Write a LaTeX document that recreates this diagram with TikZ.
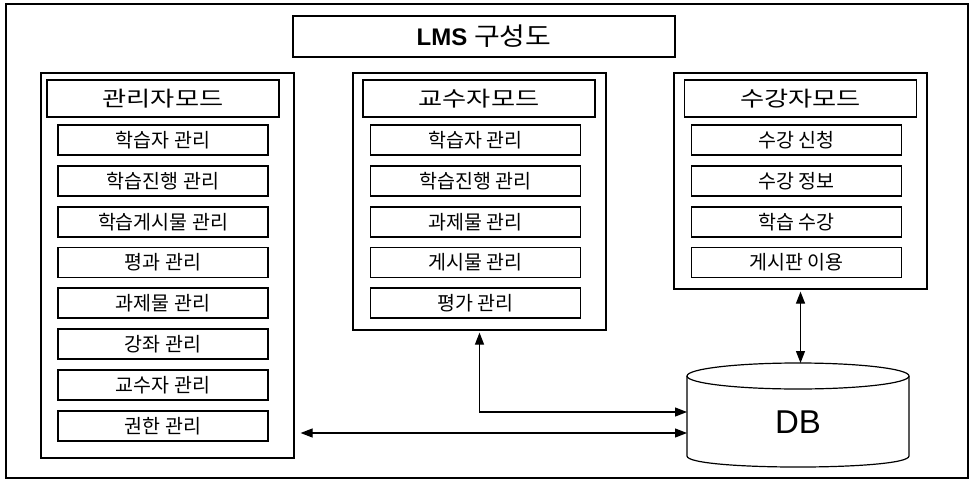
\documentclass[tikz,border=0pt]{standalone}
\usepackage{graphicx}
\usepackage{fontspec}
\setmainfont{Liberation Sans}
\newfontfamily\kr{Noto Sans CJK KR}
\usetikzlibrary{arrows.meta}
\newcommand{\hdtext}[1]{\scalebox{1.25}[1]{#1}}
\tikzset{
  base/.style={draw=black, line width=1.2pt, inner sep=0pt, align=center},
  modbox/.style={base, minimum width=253pt},
  headbox/.style={base, minimum width=232pt, minimum height=37pt, font=\kr\fontsize{21}{21}\selectfont},
  itembox/.style={base, minimum width=210pt, minimum height=30pt, font=\kr\fontsize{19.5}{19.5}\selectfont},
  link/.style={line width=1.2pt, {Triangle[length=12pt,width=9pt]}-{Triangle[length=12pt,width=9pt]}}
}
\begin{document}
\begin{tikzpicture}[x=1pt,y=-1pt]
\useasboundingbox (0,0) rectangle (973,481);
% outer frame
\node[base, minimum width=962pt, minimum height=474pt] (frame) at (487,241) {};
% title
\node[base, minimum width=382pt, minimum height=41pt] (title) at (484,36.5)
  {\fontsize{24}{24}\selectfont\textbf{LMS} {\kr\fontsize{25}{25}\selectfont\scalebox{1.12}[1]{구성도}}};
% module boxes
\node[modbox, minimum height=385pt] (admin) at (167.5,265.5) {};
\node[modbox, minimum height=257pt] (prof) at (479.5,201.5) {};
\node[modbox, minimum height=216pt] (stud) at (800.5,181) {};
% headers
\node[headbox] (adminh) at (163,98.5) {\hdtext{관리자모드}};
\node[headbox] (profh) at (479,98.5) {\hdtext{교수자모드}};
\node[headbox] (studh) at (800.5,98.5) {\hdtext{수강자모드}};
% admin items
\node[itembox] (a1) at (163,140) {학습자 관리};
\node[itembox] (a2) at (163,181) {학습진행 관리};
\node[itembox] (a3) at (163,222) {학습게시물 관리};
\node[itembox] (a4) at (163,262.5) {평과 관리};
\node[itembox] (a5) at (163,303) {과제물 관리};
\node[itembox] (a6) at (163,344) {강좌 관리};
\node[itembox] (a7) at (163,385) {교수자 관리};
\node[itembox] (a8) at (163,426) {권한 관리};
% professor items
\node[itembox] (p1) at (475.5,140) {학습자 관리};
\node[itembox] (p2) at (475.5,181) {학습진행 관리};
\node[itembox] (p3) at (475.5,222) {과제물 관리};
\node[itembox] (p4) at (475.5,262.5) {게시물 관리};
\node[itembox] (p5) at (475.5,303) {평가 관리};
% student items
\node[itembox] (s1) at (796.5,140) {수강 신청};
\node[itembox] (s2) at (796.5,181) {수강 정보};
\node[itembox] (s3) at (796.5,222) {학습 수강};
\node[itembox] (s4) at (796.5,262.5) {게시판 이용};
% DB cylinder
\node[minimum width=222pt, minimum height=80pt, inner sep=0pt,
      font=\fontsize{33}{33}\selectfont] (db) at (798,422) {DB};
\draw[line width=1.2pt] (687,376) -- (687,456)
  .. controls (687,470.7) and (909,470.7) .. (909,456) -- (909,376);
\draw[line width=1.2pt] (798,376) ellipse[x radius=111pt, y radius=13pt];
\coordinate (dbtop) at (800.5,363);
\coordinate (dbin1) at (687,412);
\coordinate (dbin2) at (687,433);
% connectors
\draw[link, shorten <=2pt] (stud.south) -- (dbtop);
\draw[link, shorten <=2pt] (prof.south) |- (dbin1);
\draw[link, shorten <=6pt] (admin.east |- dbin2) -- (dbin2);
\end{tikzpicture}
\end{document}
